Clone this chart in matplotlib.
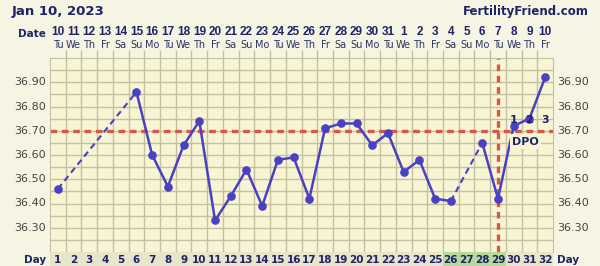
import numpy as np
import matplotlib
matplotlib.use("Agg")
import matplotlib.pyplot as plt
from matplotlib.patches import Rectangle
from matplotlib.transforms import blended_transform_factory

# chart data
cycle_days = list(range(1, 33))
dates = ['10', '11', '12', '13', '14', '15', '16', '17', '18', '19', '20', '21',
         '22', '23', '24', '25', '26', '27', '28', '29', '30', '31', '1', '2',
         '3', '4', '5', '6', '7', '8', '9', '10']
weekdays = ['Tu', 'We', 'Th', 'Fr', 'Sa', 'Su', 'Mo'] * 4 + ['Tu', 'We', 'Th', 'Fr']
nan = np.nan
temps = [36.46, nan, nan, nan, nan, 36.86, 36.60, 36.47, 36.64, 36.74, 36.33,
         36.43, 36.54, 36.39, 36.58, 36.59, 36.42, 36.71, 36.73, 36.73, 36.64,
         36.69, 36.53, 36.58, 36.42, 36.41, nan, 36.65, 36.42, 36.72, 36.75,
         36.92]
coverline = 36.70
ovulation_day = 29
fertile_days = [26, 27, 28, 29]
dpo_days = [30, 31, 32]
dpo_labels = ['1', '2', '3']
y_ticks = [36.30, 36.40, 36.50, 36.60, 36.70, 36.80, 36.90]

navy = '#1f2466'
blue = '#4a40c2'
red = '#d6584a'
grid_c = '#c4c1a3'
fig_bg = '#f6f4e3'
plot_bg = '#f8f5d4'

W, H = 600, 266
fig = plt.figure(figsize=(6, 2.66), dpi=100, facecolor=fig_bg)
ax = fig.add_axes([50 / W, 1 - 252 / H, 503 / W, 194 / H])
ax.set_facecolor(plot_bg)
ax.set_xlim(0.5, 32.5)
ax.set_ylim(36.20, 37.00)

# grid
for x in np.arange(1.5, 32.5, 1):
    ax.axvline(x, color=grid_c, lw=1, zorder=1)
for y in np.arange(36.25, 37.0, 0.05):
    ax.axhline(y, color=grid_c, lw=1, zorder=1)
for s in ax.spines.values():
    s.set_color(grid_c)
ax.set_xticks([])
ax.set_yticks([])
ax.set_xticks(np.arange(1.5, 32.5, 1), minor=True)
ax.tick_params(axis='x', which='minor', top=True, bottom=False, length=6,
               color=grid_c, width=1, labeltop=False, labelbottom=False)

# coverline and ovulation line
ax.axhline(coverline, color=red, lw=2.4, ls=(0, (2, 1.4)), zorder=2)
ax.axvline(ovulation_day, color=red, lw=2.4, ls=(0, (2, 1.4)), zorder=2)

# temperatures
t = np.array(temps)
d = np.array(cycle_days)
ax.plot(d, t, color=blue, lw=1.8, zorder=3)
valid = ~np.isnan(t)
vd, vt = d[valid], t[valid]
for i in range(len(vd) - 1):
    if vd[i + 1] - vd[i] > 1:
        ax.plot([vd[i], vd[i + 1]], [vt[i], vt[i + 1]], color=blue, lw=1.5,
                ls=(0, (3, 2)), zorder=3)
ax.plot(vd, vt, 'o', color=blue, ms=5.2, zorder=4)

# DPO labels
for dd, lab in zip(dpo_days, dpo_labels):
    ax.text(dd, 36.745, lab, color=navy, fontsize=8, fontweight='bold',
            ha='center', va='center', zorder=5)
ax.text(30.75, 36.655, 'DPO', color=navy, fontsize=8, fontweight='bold',
        ha='center', va='center', zorder=5,
        bbox=dict(boxstyle='square,pad=0.2', fc=plot_bg, ec='none'))

# temperature labels
ytr = blended_transform_factory(fig.transFigure, ax.transData)
for y in y_ticks:
    fig.text(46 / W, y, f'{y:.2f}', transform=ytr, ha='right', va='center',
             fontsize=8, color='#444444')
    fig.text(557 / W, y, f'{y:.2f}', transform=ytr, ha='left', va='center',
             fontsize=8, color='#444444')

# day row at bottom
xtr = blended_transform_factory(ax.transData, fig.transFigure)
for dd in cycle_days:
    fc = '#b9d99c' if dd in fertile_days else '#e8e5cc'
    fig.patches.append(Rectangle((dd - 0.5, 0), 1, 14 / H, transform=xtr,
                                 facecolor=fc, edgecolor='none', zorder=0))
    fig.text(dd, 1 - 260 / H, str(dd), transform=xtr, ha='center', va='center',
             fontsize=7.5, fontweight='bold', color=navy)
fig.text(46 / W, 1 - 260 / H, 'Day', ha='right', va='center', fontsize=7.5,
         fontweight='bold', color=navy)
fig.text(557 / W, 1 - 260 / H, 'Day', ha='left', va='center', fontsize=7.5,
         fontweight='bold', color=navy)

# date header
for dd, dt, wd in zip(cycle_days, dates, weekdays):
    fig.text(dd, 1 - 32 / H, dt, transform=xtr, ha='center', va='center',
             fontsize=8.5, fontweight='bold', color=navy,
             family='Liberation Sans')
    fig.text(dd, 1 - 45 / H, wd, transform=xtr, ha='center', va='center',
             fontsize=7, color='#2c3366')
fig.text(46 / W, 1 - 34 / H, 'Date', ha='right', va='center', fontsize=7.5,
         fontweight='bold', color=navy)

fig.text(12 / W, 1 - 11 / H, 'Jan 10, 2023', ha='left', va='center',
         fontsize=9.5, fontweight='bold', color=navy)
fig.text(589 / W, 1 - 11 / H, 'FertilityFriend.com', ha='right', va='center',
         fontsize=8.5, fontweight='bold', color=navy)

fig.savefig('out.png', dpi=100, facecolor=fig_bg)
